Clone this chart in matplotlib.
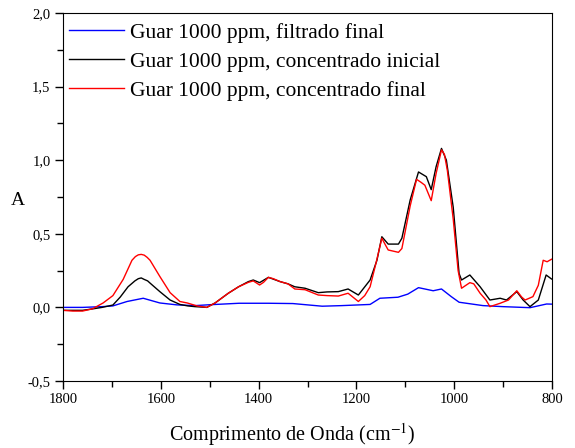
"""FTIR spectra of guar solutions (1000 ppm) across the membrane process."""

import matplotlib
matplotlib.use("Agg")
import matplotlib.pyplot as plt
from matplotlib.ticker import MultipleLocator, FuncFormatter

plt.rcParams["font.family"] = ["Liberation Serif", "DejaVu Serif"]
plt.rcParams["mathtext.fontset"] = "stix"

# wavenumber (cm-1) / absorbance pairs for each spectrum
wn_filtrado = [1800, 1760, 1720, 1698, 1669, 1636, 1602, 1567, 1530, 1500, 1440, 1380,
               1330, 1270, 1230, 1172, 1152, 1115, 1095, 1073, 1043, 1026, 1006, 990,
               941, 900, 845, 811, 800]
abs_filtrado = [0.0, 0.0, 0.005, 0.01, 0.04, 0.062, 0.03, 0.017, 0.012, 0.018, 0.028, 0.028,
                0.026, 0.008, 0.012, 0.02, 0.062, 0.069, 0.09, 0.134, 0.113, 0.125, 0.073, 0.035,
                0.012, 0.005, -0.002, 0.023, 0.022]

wn_inicial = [1800, 1780, 1760, 1739, 1720, 1698, 1683, 1667, 1653, 1646, 1640, 1634, 1627,
              1622, 1602, 1581, 1561, 1545, 1530, 1506, 1489, 1462, 1441, 1421, 1411, 1398,
              1380, 1356, 1340, 1326, 1305, 1278, 1260, 1237, 1217, 1196, 1172, 1158,
              1148, 1135, 1114, 1107, 1090, 1073, 1057, 1047, 1037, 1026, 1016, 1002,
              990, 985, 968, 947, 927, 906, 893, 872, 859, 845, 828, 812, 801]
abs_inicial = [-0.02, -0.02, -0.02, -0.01, 0.0, 0.016, 0.07, 0.14, 0.18, 0.195, 0.20, 0.19, 0.18,
               0.165, 0.107, 0.05, 0.02, 0.01, 0.005, 0.0, 0.03, 0.096, 0.14, 0.175, 0.186, 0.168,
               0.204, 0.175, 0.16, 0.14, 0.13, 0.10, 0.105, 0.107, 0.125, 0.084, 0.186, 0.32,
               0.48, 0.43, 0.43, 0.47, 0.73, 0.92, 0.888, 0.80, 0.956, 1.08, 1.0, 0.68,
               0.23, 0.186, 0.22, 0.14, 0.05, 0.062, 0.05, 0.107, 0.05, 0.005, 0.05, 0.22, 0.193]

wn_final = [1800, 1780, 1760, 1740, 1718, 1698, 1677, 1659, 1652, 1646, 1640, 1634, 1628,
            1622, 1602, 1581, 1561, 1546, 1526, 1506, 1489, 1462, 1441, 1421, 1411, 1398,
            1390, 1380, 1370, 1356, 1340, 1326, 1305, 1290, 1278, 1260, 1237, 1217,
            1196, 1183, 1172, 1160, 1148, 1140, 1135, 1114, 1107, 1090, 1077, 1068,
            1060, 1047, 1037, 1026, 1020, 1014, 1002, 992, 985, 968, 960, 947,
            935, 927, 906, 889, 872, 862, 855, 839, 828, 818, 810, 801]
abs_final = [-0.02, -0.025, -0.025, -0.01, 0.03, 0.08, 0.19, 0.32, 0.345, 0.357, 0.36, 0.355, 0.34,
             0.32, 0.21, 0.10, 0.04, 0.03, 0.01, 0.0, 0.03, 0.096, 0.14, 0.17, 0.18, 0.152,
             0.17, 0.204, 0.195, 0.175, 0.16, 0.125, 0.12, 0.10, 0.084, 0.08, 0.077, 0.096,
             0.04, 0.08, 0.14, 0.30, 0.47, 0.42, 0.39, 0.374, 0.40, 0.69, 0.87, 0.85,
             0.83, 0.725, 0.91, 1.07, 1.04, 0.93, 0.60, 0.25, 0.13, 0.168, 0.16, 0.096,
             0.05, 0.005, 0.028, 0.05, 0.113, 0.07, 0.05, 0.073, 0.15, 0.32, 0.31, 0.327]

labels = ["Guar 1000 ppm, filtrado final",
          "Guar 1000 ppm, concentrado inicial",
          "Guar 1000 ppm, concentrado final"]


def comma_fmt(v, pos):
    return f"{v:.1f}".replace(".", ",")


fig = plt.figure(figsize=(5.75, 4.48), dpi=100)
ax = fig.add_axes([0.1096, 0.1496, 0.8504, 0.8214])

ax.plot(wn_filtrado, abs_filtrado, color="#0000ff", lw=1.0, label=labels[0])
ax.plot(wn_inicial, abs_inicial, color="black", lw=1.0, label=labels[1])
ax.plot(wn_final, abs_final, color="#ff0000", lw=1.0, label=labels[2])

ax.set_xlim(1800, 800)
ax.set_ylim(-0.5, 2.0)
ax.xaxis.set_major_locator(MultipleLocator(200))
ax.xaxis.set_minor_locator(MultipleLocator(100))
ax.yaxis.set_major_locator(MultipleLocator(0.5))
ax.yaxis.set_minor_locator(MultipleLocator(0.25))
ax.yaxis.set_major_formatter(FuncFormatter(comma_fmt))
ax.tick_params(which="both", direction="out", top=False, right=False, labelsize=10.5, width=1)
ax.tick_params(which="major", length=6, pad=3)
ax.tick_params(which="minor", length=4)

ax.set_xlabel("Comprimento de Onda (cm$^{-1}$)", fontsize=14.5)
ax.xaxis.set_label_coords(0.468, -0.11)
ax.set_ylabel("A", fontsize=14, rotation=0, va="center", ha="center")
ax.yaxis.set_label_coords(-0.092, 0.49)

ax.legend(loc="upper left", bbox_to_anchor=(-0.008, 1.0), frameon=False, fontsize=15.5,
          handlelength=2.55, handletextpad=0.28, labelspacing=0.42,
          borderaxespad=0.15, borderpad=0.3)

fig.savefig("out.png", dpi=100)
